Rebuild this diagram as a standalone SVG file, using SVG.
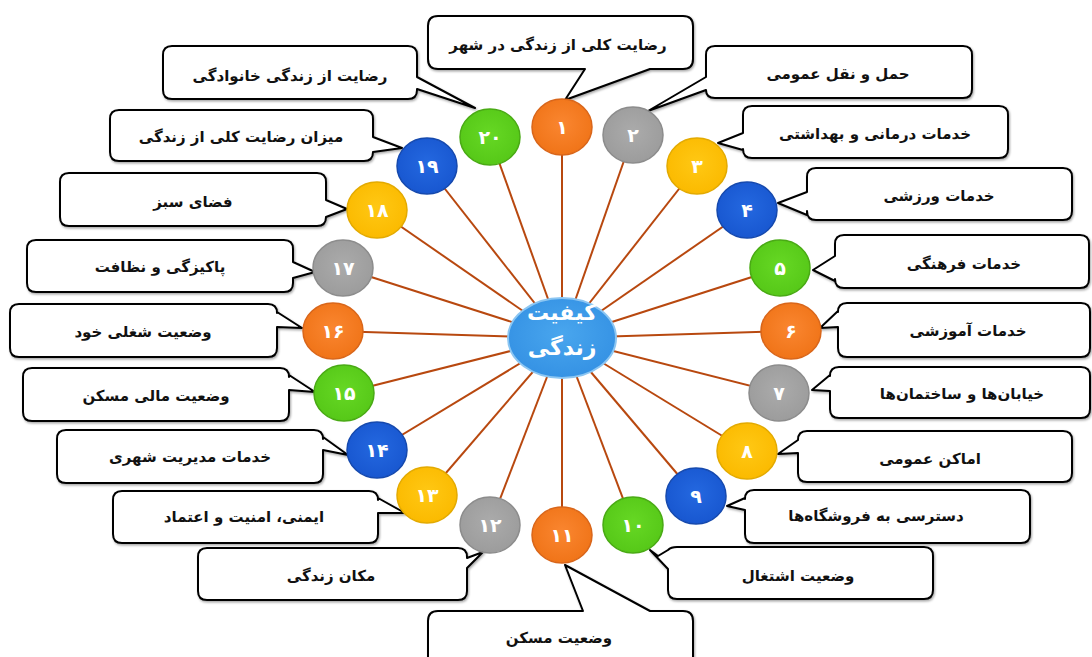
<svg xmlns="http://www.w3.org/2000/svg" width="1092" height="657" viewBox="0 0 1092 657">
<defs>
<style>
.box{fill:#fff;stroke:#000;stroke-width:2;stroke-linejoin:round;filter:url(#sh)}
.lbl{font-family:"DejaVu Sans",sans-serif;font-weight:bold;font-size:15px;fill:#111;text-anchor:middle;direction:rtl}
.num{font-family:"DejaVu Sans",sans-serif;font-weight:bold;font-size:19px;fill:#fff;text-anchor:middle}
.spoke{stroke:#B8480F;stroke-width:2}
.c-or{fill:url(#gOr);stroke:#D9661A;stroke-width:1.5}
.c-gr{fill:url(#gGy);stroke:#8C8C8C;stroke-width:1.5}
.c-ye{fill:url(#gYe);stroke:#E3AA00;stroke-width:1.5}
.c-bl{fill:url(#gBl);stroke:#1549AE;stroke-width:1.5}
.c-gn{fill:url(#gGn);stroke:#49AA14;stroke-width:1.5}
.ctr{font-family:"DejaVu Sans",sans-serif;font-weight:bold;font-size:22px;fill:#fff;text-anchor:middle}
</style>
<filter id="sh" x="-5%" y="-10%" width="110%" height="130%"><feDropShadow dx="1" dy="1.5" stdDeviation="0.8" flood-color="#000" flood-opacity="0.35"/></filter>
<radialGradient id="gOr" cx="50%" cy="45%" r="55%"><stop offset="0" stop-color="#FA8630"/><stop offset="1" stop-color="#F07418"/></radialGradient>
<radialGradient id="gGy" cx="50%" cy="45%" r="55%"><stop offset="0" stop-color="#ABABAB"/><stop offset="1" stop-color="#9C9C9C"/></radialGradient>
<radialGradient id="gYe" cx="50%" cy="45%" r="55%"><stop offset="0" stop-color="#FFC814"/><stop offset="1" stop-color="#FBBA00"/></radialGradient>
<radialGradient id="gBl" cx="50%" cy="45%" r="55%"><stop offset="0" stop-color="#2468E0"/><stop offset="1" stop-color="#1857D0"/></radialGradient>
<radialGradient id="gGn" cx="50%" cy="45%" r="55%"><stop offset="0" stop-color="#66D824"/><stop offset="1" stop-color="#56C818"/></radialGradient>
<radialGradient id="gCt" cx="50%" cy="45%" r="55%"><stop offset="0" stop-color="#49A6EE"/><stop offset="1" stop-color="#3592E4"/></radialGradient>
</defs>
<rect width="1092" height="657" fill="#fff"/>

<g id="connectors">
<line class="spoke" x1="562" y1="338" x2="562" y2="127"/>
<line class="spoke" x1="562" y1="338" x2="633" y2="135"/>
<line class="spoke" x1="562" y1="338" x2="697" y2="166"/>
<line class="spoke" x1="562" y1="338" x2="747" y2="210"/>
<line class="spoke" x1="562" y1="338" x2="780" y2="268"/>
<line class="spoke" x1="562" y1="338" x2="791" y2="331"/>
<line class="spoke" x1="562" y1="338" x2="779" y2="393"/>
<line class="spoke" x1="562" y1="338" x2="747" y2="451"/>
<line class="spoke" x1="562" y1="338" x2="696" y2="496"/>
<line class="spoke" x1="562" y1="338" x2="633" y2="525"/>
<line class="spoke" x1="562" y1="338" x2="562" y2="535"/>
<line class="spoke" x1="562" y1="338" x2="490" y2="525"/>
<line class="spoke" x1="562" y1="338" x2="427" y2="495"/>
<line class="spoke" x1="562" y1="338" x2="377" y2="450"/>
<line class="spoke" x1="562" y1="338" x2="344" y2="393"/>
<line class="spoke" x1="562" y1="338" x2="333" y2="331"/>
<line class="spoke" x1="562" y1="338" x2="343" y2="268"/>
<line class="spoke" x1="562" y1="338" x2="377" y2="210"/>
<line class="spoke" x1="562" y1="338" x2="427" y2="166"/>
<line class="spoke" x1="562" y1="338" x2="490" y2="137"/>
</g>

<g id="center">
<ellipse cx="562" cy="338" rx="54" ry="40" fill="url(#gCt)" stroke="#8CC6F2" stroke-width="2"/>
<text class="ctr" x="562" y="320">کیفیت</text>
<text class="ctr" x="562" y="355">زندگی</text>
</g>

<g id="n1"><path class="box" d="M438,16 H683 Q693,16 693,26 V59 Q693,69 683,69 H650 L565,100 L585,69 H438 Q428,69 428,59 V26 Q428,16 438,16 Z"/><text class="lbl" x="558" y="50">رضایت کلی از زندگی در شهر</text>
<ellipse class="c-or" cx="562" cy="127" rx="30" ry="28"/><text class="num" x="562" y="134">۱</text></g>

<g id="n2"><path class="box" d="M715,46 H963 Q972,46 972,55 V89 Q972,98 963,98 H715 Q706,98 706,90 L648,111 L706,77 V55 Q706,46 715,46 Z"/><text class="lbl" x="838" y="79">حمل و نقل عمومی</text>
<ellipse class="c-gr" cx="633" cy="135" rx="30" ry="28"/><text class="num" x="633" y="142">۲</text></g>

<g id="n3"><path class="box" d="M752,106 H999 Q1008,106 1008,115 V149 Q1008,158 999,158 H752 Q743,158 743,149 V150 L718,143 L743,133 V115 Q743,106 752,106 Z"/><text class="lbl" x="875" y="139">خدمات درمانی و بهداشتی</text>
<ellipse class="c-ye" cx="697" cy="166" rx="30" ry="28"/><text class="num" x="697" y="173">۳</text></g>

<g id="n4"><path class="box" d="M816,168 H1063 Q1072,168 1072,177 V211 Q1072,220 1063,220 H816 Q807,220 807,211 V215 L778,203 L807,192 V177 Q807,168 816,168 Z"/><text class="lbl" x="939" y="201">خدمات ورزشی</text>
<ellipse class="c-bl" cx="747" cy="210" rx="30" ry="28"/><text class="num" x="747" y="217">۴</text></g>

<g id="n5"><path class="box" d="M844,235 H1080 Q1089,235 1089,244 V279 Q1089,288 1080,288 H844 Q835,288 835,279 V281 L813,270 L835,256 V244 Q835,235 844,235 Z"/><text class="lbl" x="964" y="269">خدمات فرهنگی</text>
<ellipse class="c-gn" cx="780" cy="268" rx="30" ry="28"/><text class="num" x="780" y="275">۵</text></g>

<g id="n6"><path class="box" d="M847,303 H1081 Q1090,303 1090,312 V348 Q1090,357 1081,357 H847 Q838,357 838,348 V327 L820,328 L838,311 V312 Q838,303 847,303 Z"/><text class="lbl" x="968" y="336">خدمات آموزشی</text>
<ellipse class="c-or" cx="791" cy="331" rx="30" ry="28"/><text class="num" x="791" y="338">۶</text></g>

<g id="n7"><path class="box" d="M839,367 H1081 Q1090,367 1090,376 V409 Q1090,418 1081,418 H839 Q830,418 830,409 V391 L812,390 L830,375 V376 Q830,367 839,367 Z"/><text class="lbl" x="962" y="399">خیابان‌ها و ساختمان‌ها</text>
<ellipse class="c-gr" cx="779" cy="393" rx="30" ry="28"/><text class="num" x="779" y="400">۷</text></g>

<g id="n8"><path class="box" d="M807,431 H1063 Q1072,431 1072,440 V473 Q1072,482 1063,482 H807 Q798,482 798,473 V453 L778,454 L798,440 V440 Q798,431 807,431 Z"/><text class="lbl" x="930" y="464">اماکن عمومی</text>
<ellipse class="c-ye" cx="747" cy="451" rx="30" ry="28"/><text class="num" x="747" y="458">۸</text></g>

<g id="n9"><path class="box" d="M754,490 H1021 Q1030,490 1030,499 V534 Q1030,543 1021,543 H754 Q745,543 745,534 V510 L727,506 L745,498 V499 Q745,490 754,490 Z"/><text class="lbl" x="876" y="521">دسترسی به فروشگاه‌ها</text>
<ellipse class="c-bl" cx="696" cy="496" rx="30" ry="28"/><text class="num" x="696" y="503">۹</text></g>

<g id="n10"><path class="box" d="M677,547 H924 Q933,547 933,556 V590 Q933,599 924,599 H677 Q668,599 668,590 V569 L650,550 L658,556 L668,550 Q671,547 677,547 Z"/><text class="lbl" x="798" y="581">وضعیت اشتغال</text>
<ellipse class="c-gn" cx="633" cy="525" rx="30" ry="28"/><text class="num" x="633" y="532">۱۰</text></g>

<g id="n11"><path class="box" d="M438,611 H583 L565,565 L650,611 H683 Q693,611 693,621 V672 H428 V621 Q428,611 438,611 Z"/><text class="lbl" x="559" y="643">وضعیت مسکن</text>
<ellipse class="c-or" cx="562" cy="535" rx="30" ry="28"/><text class="num" x="562" y="542">۱۱</text></g>

<g id="n12"><path class="box" d="M207,548 H458 Q467,548 467,557 V558 L483,552 L467,568 V591 Q467,600 458,600 H207 Q198,600 198,591 V557 Q198,548 207,548 Z"/><text class="lbl" x="331" y="581">مکان زندگی</text>
<ellipse class="c-gr" cx="490" cy="525" rx="30" ry="28"/><text class="num" x="490" y="532">۱۲</text></g>

<g id="n13"><path class="box" d="M122,491 H369 Q378,491 378,500 V498 L405,513 L378,513 V534 Q378,543 369,543 H122 Q113,543 113,534 V500 Q113,491 122,491 Z"/><text class="lbl" x="244" y="522">ایمنی، امنیت و اعتماد</text>
<ellipse class="c-ye" cx="427" cy="495" rx="30" ry="28"/><text class="num" x="427" y="502">۱۳</text></g>

<g id="n14"><path class="box" d="M66,430 H314 Q323,430 323,439 V437 L348,455 L323,450 V474 Q323,483 314,483 H66 Q57,483 57,474 V439 Q57,430 66,430 Z"/><text class="lbl" x="190" y="462">خدمات مدیریت شهری</text>
<ellipse class="c-bl" cx="377" cy="450" rx="30" ry="28"/><text class="num" x="377" y="457">۱۴</text></g>

<g id="n15"><path class="box" d="M32,368 H280 Q289,368 289,377 V375 L315,392 L289,390 V412 Q289,421 280,421 H32 Q23,421 23,412 V377 Q23,368 32,368 Z"/><text class="lbl" x="156" y="401">وضعیت مالی مسکن</text>
<ellipse class="c-gn" cx="344" cy="393" rx="30" ry="28"/><text class="num" x="344" y="400">۱۵</text></g>

<g id="n16"><path class="box" d="M19,304 H268 Q277,304 277,313 V312 L302,328 L277,327 V348 Q277,357 268,357 H19 Q10,357 10,348 V313 Q10,304 19,304 Z"/><text class="lbl" x="143" y="337">وضعیت شغلی خود</text>
<ellipse class="c-or" cx="333" cy="331" rx="30" ry="28"/><text class="num" x="333" y="338">۱۶</text></g>

<g id="n17"><path class="box" d="M36,240 H284 Q293,240 293,249 V262 L315,272 L293,278 V283 Q293,292 284,292 H36 Q27,292 27,283 V249 Q27,240 36,240 Z"/><text class="lbl" x="160" y="272">پاکیزگی و نظافت</text>
<ellipse class="c-gr" cx="343" cy="268" rx="30" ry="28"/><text class="num" x="343" y="275">۱۷</text></g>

<g id="n18"><path class="box" d="M69,173 H317 Q326,173 326,182 V200 L347,209 L326,217 V217 Q326,226 317,226 H69 Q60,226 60,217 V182 Q60,173 69,173 Z"/><text class="lbl" x="193" y="207">فضای سبز</text>
<ellipse class="c-ye" cx="377" cy="210" rx="30" ry="28"/><text class="num" x="377" y="217">۱۸</text></g>

<g id="n19"><path class="box" d="M119,110 H364 Q373,110 373,119 V137 L402,148 L373,152 V152 Q373,161 364,161 H119 Q110,161 110,152 V119 Q110,110 119,110 Z"/><text class="lbl" x="241" y="142">میزان رضایت کلی از زندگی</text>
<ellipse class="c-bl" cx="427" cy="166" rx="30" ry="28"/><text class="num" x="427" y="173">۱۹</text></g>

<g id="n20"><path class="box" d="M172,46 H408 Q417,46 417,55 V77 L475,108 L417,89 V90 Q417,99 408,99 H172 Q163,99 163,90 V55 Q163,46 172,46 Z"/><text class="lbl" x="290" y="81">رضایت از زندگی خانوادگی</text>
<ellipse class="c-gn" cx="490" cy="137" rx="30" ry="28"/><text class="num" x="490" y="144">۲۰</text></g>
</svg>
